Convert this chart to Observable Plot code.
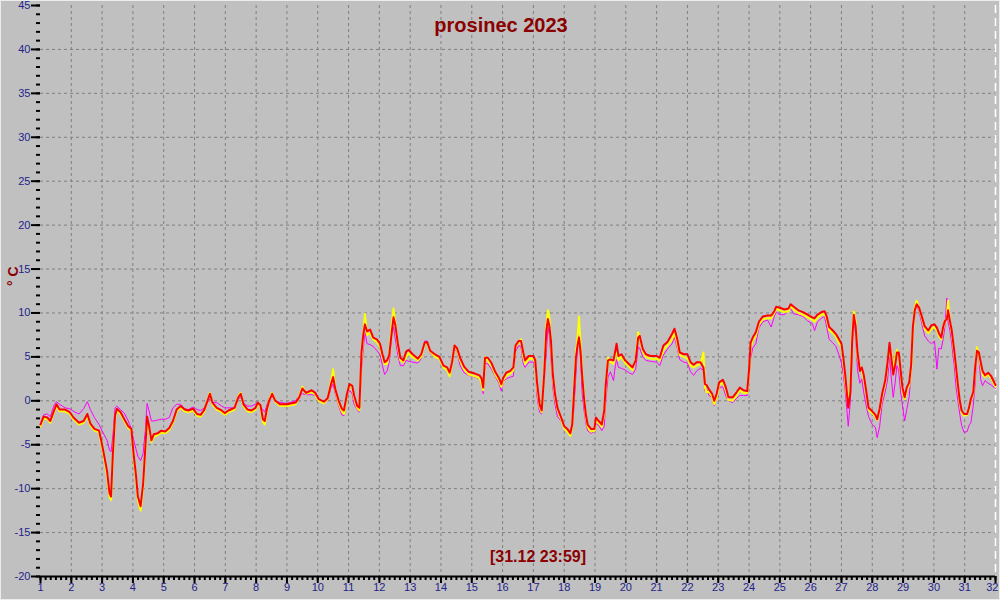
<!DOCTYPE html>
<html><head><meta charset="utf-8">
<script src="https://cdn.jsdelivr.net/npm/d3@7"></script>
<script src="https://cdn.jsdelivr.net/npm/@observablehq/plot@0.6"></script>
<style>
body{margin:0;background:#c0c0c0}
#chart svg{display:block;outline:1px solid #ececec;outline-offset:-1px}
</style>
</head><body><div id="chart"></div>
<script>
const title = "prosinec 2023";
const stamp = "[31.12 23:59]";
const yUnit = "° C";
const dayTicks = [1,2,3,4,5,6,7,8,9,10,11,12,13,14,15,16,17,18,19,20,21,22,23,24,25,26,27,28,29,30,31,32];
const tempTicks = [-20,-15,-10,-5,0,5,10,15,20,25,30,35,40,45];

const days = [
1.00,1.10,1.22,1.32,1.43,1.52,1.62,1.80,1.95,2.07,2.25,2.40,2.52,2.62,2.75,2.90,2.97,3.07,3.16,3.24,3.29,3.35,3.42,3.48,3.60,3.72,3.85,3.95,4.02,4.10,4.16,4.25,4.33,4.40,4.46,4.52,4.60,4.68,4.80,4.92,5.05,5.18,5.30,5.42,5.55,5.68,5.80,5.95,6.08,
6.20,6.32,6.42,6.50,6.58,6.72,6.88,6.98,7.10,7.30,7.42,7.50,7.59,7.72,7.85,7.98,8.05,8.14,8.22,8.28,8.34,8.42,8.52,8.62,8.78,9.00,9.28,9.40,9.50,9.62,9.80,9.92,10.03,10.20,10.32,10.43,10.50,10.57,10.68,10.78,10.85,10.95,11.03,11.12,11.18,11.28,11.35,
11.42,11.48,11.53,11.60,11.70,11.80,11.92,12.02,12.10,12.17,12.25,12.32,12.40,12.46,12.52,12.60,12.68,12.78,12.87,12.95,13.08,13.25,13.36,13.47,13.55,13.65,13.80,13.95,14.08,14.20,14.28,14.36,14.44,14.52,14.62,14.75,14.90,15.10,15.25,15.32,15.37,15.43,15.52,15.64,15.76,15.88,15.96,16.02,16.12,16.25,16.35,16.42,16.52,16.60,16.67,16.73,16.85,17.00,
17.06,17.12,17.20,17.27,17.35,17.42,17.47,17.52,17.57,17.63,17.70,17.78,17.90,18.00,18.10,18.20,18.26,18.32,18.38,18.44,18.48,18.53,18.58,18.64,18.70,18.76,18.87,18.98,19.03,19.12,19.22,19.30,19.35,19.42,19.50,19.60,19.66,19.70,19.76,19.86,19.98,20.10,20.22,20.32,20.40,20.45,20.55,20.65,20.80,21.00,21.10,21.22,21.35,21.50,21.58,21.67,21.75,21.88,22.00,22.10,22.20,22.30,22.42,22.52,22.57,22.62,22.70,22.80,22.87,22.95,23.03,23.15,23.25,23.33,23.47,23.60,23.70,23.82,23.94,
24.00,24.05,24.12,24.22,24.32,24.45,24.60,24.72,24.82,24.88,25.00,25.15,25.28,25.35,25.45,25.60,25.75,25.90,26.05,26.13,26.22,26.35,26.45,26.52,26.60,26.72,26.82,26.92,27.00,27.06,27.12,27.17,27.22,27.29,27.35,27.40,27.46,27.52,27.60,27.66,27.72,27.80,27.88,28.00,28.10,28.16,28.24,28.32,28.42,28.50,28.56,28.62,28.68,28.74,28.80,28.86,28.92,28.98,29.05,29.12,29.20,29.26,29.32,29.38,29.44,29.52,29.60,29.70,29.82,29.92,30.02,30.10,30.16,30.24,30.30,30.36,30.42,30.46,30.52,30.58,30.66,30.72,30.78,30.84,30.90,30.98,31.08,31.14,31.20,31.28,31.34,31.40,31.46,31.52,31.58,31.66,31.76,31.86,32.00
];

const red = [
-2.7,-1.8,-1.9,-2.3,-1.2,-0.4,-1.0,-1.0,-1.3,-1.9,-2.5,-2.3,-1.5,-2.6,-3.2,-3.4,-4.5,-6.3,-8.0,-10.5,-10.9,-6.0,-1.7,-0.9,-1.3,-2.1,-2.9,-3.2,-6.0,-8.5,-10.9,-12.0,-9.5,-5.5,-1.8,-2.8,-4.5,-3.8,-3.7,-3.4,-3.5,-3.1,-2.3,-1.0,-0.6,-1.0,-1.1,-0.9,-1.5,
-1.6,-1.0,0.0,0.8,-0.2,-0.8,-1.1,-1.4,-1.1,-0.8,0.4,0.8,-0.4,-1.0,-1.1,-0.8,-0.2,-0.5,-2.1,-2.3,-1.1,0.0,0.8,0.0,-0.4,-0.4,-0.2,0.4,1.4,0.9,1.2,0.9,0.2,-0.1,0.3,1.9,2.7,1.3,0.0,-0.9,-1.1,0.8,1.9,1.7,0.6,-0.6,-0.8,
5.5,7.6,8.7,7.9,8.1,7.2,7.0,6.5,5.3,4.4,4.6,5.2,7.8,9.5,8.6,6.5,4.9,4.6,5.6,5.8,5.3,4.8,5.3,6.6,6.7,5.7,5.3,5.0,4.0,3.8,3.2,4.4,6.3,6.0,4.9,3.9,3.3,3.1,2.9,2.5,1.5,4.9,4.9,4.3,3.3,2.6,1.9,2.6,3.2,3.4,3.8,6.3,6.8,6.8,5.5,4.6,5.1,5.1,
4.6,2.0,-0.4,-1.1,3.0,8.0,9.3,8.5,6.8,3.0,0.8,-0.8,-1.9,-2.9,-3.2,-3.7,-2.7,1.1,4.9,6.5,7.2,5.7,3.0,0.4,-1.5,-2.7,-3.2,-3.2,-1.9,-2.3,-2.7,-1.1,1.9,4.6,4.7,4.6,5.7,6.5,5.1,5.3,4.6,4.2,3.8,4.6,7.2,7.4,5.9,5.3,5.1,5.1,4.9,6.3,6.7,7.6,8.2,7.0,5.5,5.3,5.3,4.4,4.1,4.4,4.4,3.8,1.9,1.8,1.3,0.8,0.0,0.8,2.1,2.4,1.5,0.4,0.4,1.0,1.5,1.2,1.1,
3.5,6.6,7.2,7.8,9.0,9.6,9.7,9.7,10.2,10.7,10.6,10.4,10.5,11.0,10.7,10.3,10.1,9.8,9.5,9.4,9.8,10.1,10.2,9.6,8.4,8.0,7.6,7.0,6.5,4.9,3.0,1.1,-0.8,1.0,7.0,9.8,8.5,5.5,3.4,3.8,3.0,1.2,-0.8,-1.2,-1.6,-2.1,-0.9,0.8,2.3,4.5,6.6,4.9,3.0,4.0,5.5,5.5,3.5,1.5,0.4,1.5,2.1,4.0,8.5,10.3,11.0,10.6,9.7,8.5,8.0,8.6,8.7,8.3,7.7,7.2,8.4,9.1,9.3,10.3,9.1,8.0,5.7,3.8,1.8,0.0,-1.1,-1.5,-1.5,-0.8,0.2,1.0,3.8,5.7,5.5,4.4,3.4,2.9,3.2,2.8,1.8
];

const yellow = [
-2.9,-2.0,-2.1,-2.5,-1.4,-0.6,-1.2,-1.2,-1.5,-2.1,-2.7,-2.5,-1.7,-2.8,-3.4,-3.6,-4.8,-6.6,-8.5,-10.9,-11.3,-6.5,-2.0,-1.1,-1.5,-2.3,-3.1,-3.4,-6.3,-8.8,-11.3,-12.5,-9.9,-5.8,-2.1,-3.0,-4.7,-4.1,-3.9,-3.6,-3.7,-3.3,-2.5,-1.2,-0.8,-1.2,-1.3,-1.1,-1.7,
-1.8,-1.2,0.0,0.9,-0.4,-1.0,-1.3,-1.6,-1.3,-1.0,0.5,0.9,-0.6,-1.2,-1.3,-1.0,-0.3,-0.7,-2.4,-2.7,-1.3,0.1,0.9,-0.1,-0.6,-0.6,-0.4,0.5,1.6,0.8,1.0,0.7,0.0,-0.3,0.2,2.2,3.6,1.2,-0.3,-1.2,-1.5,0.6,1.8,1.5,0.3,-0.8,-1.1,
4.8,7.5,9.9,7.5,7.7,7.0,6.7,6.2,4.9,4.2,4.2,5.3,8.5,10.5,8.8,6.2,4.6,4.4,5.0,5.4,5.0,4.6,5.0,6.5,6.6,5.6,5.0,4.8,3.8,3.5,2.8,4.2,6.2,5.8,4.6,3.6,3.0,2.8,2.6,2.0,1.2,5.0,4.6,4.0,3.0,2.3,1.6,2.3,2.9,3.1,3.5,6.2,6.6,7.0,5.0,4.2,4.8,4.8,
4.3,1.5,-0.7,-1.3,3.2,8.5,10.3,9.5,6.5,2.5,0.5,-1.0,-2.1,-3.1,-3.5,-4.0,-3.0,1.5,5.3,7.5,9.6,6.5,3.5,0.5,-1.8,-3.0,-3.5,-3.4,-2.2,-2.5,-3.0,-1.5,1.5,4.9,4.4,4.2,5.5,5.5,4.6,5.0,4.3,3.9,3.5,4.8,7.8,7.3,5.6,5.0,4.8,4.8,4.6,5.8,6.3,7.0,7.8,6.5,5.2,5.0,4.8,4.0,3.8,4.0,4.2,5.5,1.5,1.0,1.0,0.5,-0.4,0.4,1.8,2.1,1.2,0.1,0.0,0.7,1.2,0.9,0.9,
3.0,6.0,6.9,7.4,8.7,9.3,9.4,9.4,10.0,10.5,10.3,10.1,10.2,10.8,10.4,10.0,9.8,9.5,9.2,9.0,9.5,9.8,9.9,9.3,8.1,7.7,7.3,6.6,6.2,4.4,2.3,0.7,-0.3,2.0,7.5,10.2,9.0,5.0,3.8,3.5,2.5,1.0,-1.0,-1.4,-1.8,-2.2,-1.2,0.5,2.0,4.2,6.0,5.5,3.2,4.8,5.8,5.0,3.2,1.0,0.2,1.2,1.8,3.5,8.0,10.6,11.4,10.5,9.5,8.2,7.7,8.2,8.4,8.0,7.4,7.0,8.2,9.0,9.4,11.4,9.0,7.8,5.4,3.5,1.5,-0.3,-1.3,-1.7,-1.6,-1.0,0.0,0.8,3.5,6.1,5.2,4.0,3.0,2.7,3.0,2.6,1.6
];

const magenta = [
-2.8,-1.6,-1.5,-1.8,-0.6,-0.1,-0.4,-0.8,-0.9,-1.2,-1.5,-0.9,-0.1,-1.0,-1.9,-2.7,-3.2,-3.9,-4.5,-5.6,-5.8,-4.0,-0.8,-0.6,-1.0,-1.4,-2.3,-3.2,-4.4,-5.5,-6.3,-6.8,-6.0,-3.5,-0.3,-1.1,-2.3,-2.3,-2.2,-2.1,-2.1,-1.9,-0.8,-0.4,-0.4,-0.9,-1.0,-0.7,-1.0,
-1.1,-0.8,-0.2,0.2,-0.2,-0.2,-0.6,-0.8,-0.8,-0.8,0.2,0.4,-0.3,-0.6,-0.6,-0.4,-0.2,-0.8,-1.0,-1.3,-0.6,0.3,0.6,0.0,-0.2,-0.3,0.0,0.6,0.8,0.7,0.7,0.6,0.0,-0.2,0.0,1.5,1.9,0.8,-0.6,-1.6,-1.7,0.4,1.2,0.8,-0.4,-1.0,-1.3,
3.5,6.0,7.8,6.5,6.4,6.2,5.7,5.3,4.0,3.0,3.4,4.4,7.6,8.4,7.0,5.2,4.0,4.0,4.6,4.5,4.4,4.3,4.8,6.8,6.8,5.4,5.0,4.8,3.8,3.4,3.0,4.0,6.0,5.6,4.0,3.2,2.9,2.7,2.5,2.2,0.8,4.3,4.2,3.6,2.8,2.0,1.1,2.2,2.5,2.7,2.8,5.6,6.3,6.1,4.2,3.8,4.4,4.4,
3.8,0.4,-1.3,-1.5,2.5,5.5,8.4,7.5,4.8,1.5,-0.4,-1.8,-2.3,-3.0,-3.4,-3.6,-3.2,-0.5,3.0,6.5,7.6,5.0,1.0,-1.0,-2.5,-3.4,-3.7,-3.5,-2.6,-2.8,-3.4,-2.9,0.0,2.7,3.3,2.3,4.0,4.7,3.8,3.7,3.5,3.2,3.0,3.6,6.1,6.0,5.0,4.6,4.5,4.4,4.0,5.2,5.9,6.5,7.2,6.0,4.7,4.4,4.3,3.3,2.9,3.4,3.7,3.5,1.1,1.3,0.6,0.4,-0.6,0.3,1.5,1.6,0.5,0.0,-0.2,0.3,0.6,0.6,0.6,
2.5,4.8,6.0,6.5,8.3,9.0,9.2,8.4,9.6,10.1,9.8,9.8,10.3,10.5,9.9,9.8,9.6,9.1,8.8,8.0,9.0,9.4,9.6,8.4,7.0,6.6,6.2,5.2,4.3,3.0,1.2,-0.8,-2.9,0.0,6.0,10.3,7.5,3.5,2.0,2.5,1.0,-0.5,-1.8,-2.7,-3.0,-4.2,-2.9,-0.4,1.0,2.5,5.0,2.5,0.4,2.0,4.0,3.4,1.0,-0.5,-2.3,-1.0,0.5,3.5,8.0,10.3,10.9,10.2,8.9,7.4,6.8,6.5,6.8,3.6,6.0,5.9,7.0,8.5,11.7,9.0,8.0,6.5,4.0,1.5,0.0,-1.5,-2.8,-3.6,-3.5,-2.8,-2.5,-0.5,2.0,5.7,5.0,2.4,1.7,2.3,2.0,1.8,1.4
];

const rows = days.map((d, i) => ({day: d, red: red[i], yellow: yellow[i], magenta: magenta[i]}));
const minorX = d3.range(0, 31 * 6 + 1).map(k => 1 + k / 6);
const minorY = d3.range(-20, 46, 1);

const labelColor = "#23238c";
const darkRed = "#8b0000";
const gridStyle = {stroke: "#7f7f7f", strokeOpacity: 1, strokeDasharray: "3,3"};
const lastDay = dayTicks[dayTicks.length - 1];

const chart = Plot.plot({
  width: 1000, height: 600,
  marginLeft: 40, marginRight: 5, marginTop: 5, marginBottom: 24,
  style: {background: "#c0c0c0", fontFamily: "'Liberation Sans', Arial, sans-serif", fontSize: "11px"},
  x: {domain: [1, 32], axis: null},
  y: {domain: [-20, 45], axis: null},
  marks: [
    Plot.gridX(dayTicks.slice(1, -1), gridStyle),
    Plot.gridY(tempTicks.slice(1, -1), gridStyle),
    Plot.ruleX([lastDay], {stroke: "white", strokeWidth: 1.5, strokeDasharray: "8,5"}),
    Plot.axisY(minorY, {tickSize: 4, tickFormat: () => "", label: null, stroke: "black", strokeWidth: 2}),
    Plot.axisY(tempTicks, {tickSize: 9, tickFormat: () => "", label: null, stroke: "black", strokeWidth: 2}),
    Plot.text(tempTicks, {y: d => d, frameAnchor: "left", dx: -10, textAnchor: "end", fill: labelColor, fontSize: 11}),
    Plot.ruleY([-20], {stroke: "black", strokeWidth: 2}),
    Plot.axisX(minorX, {tickSize: 4, tickFormat: () => "", label: null, stroke: "black", strokeWidth: 2}),
    Plot.axisX(dayTicks, {tickSize: 7, tickFormat: () => "", label: null, stroke: "black", strokeWidth: 2}),
    Plot.text(dayTicks.slice(0, -1), {x: d => d, frameAnchor: "bottom", dy: 14, fill: labelColor, fontSize: 11}),
    Plot.text([lastDay], {x: d => d, frameAnchor: "bottom", dy: 14, dx: 3, textAnchor: "end", fill: labelColor, fontSize: 11}),
    Plot.line(rows, {x: "day", y: "magenta", stroke: "#ff00ff", strokeWidth: 1}),
    Plot.line(rows, {x: "day", y: "yellow", stroke: "#ffff00", strokeWidth: 2}),
    Plot.line(rows, {x: "day", y: "red", stroke: "#ff0000", strokeWidth: 2}),
    Plot.text([title], {frameAnchor: "top", dx: -17, dy: 12, fontSize: 20, fontWeight: "bold", fill: darkRed}),
    Plot.text([stamp], {frameAnchor: "bottom", dx: 20, dy: -15, fontSize: 16, fontWeight: "bold", fill: darkRed}),
    Plot.text([yUnit], {frameAnchor: "left", dx: -27, dy: -5, rotate: -90, fontSize: 14, fontWeight: "bold", fill: darkRed})
  ]
});
document.getElementById("chart").appendChild(chart);
</script>
</body></html>
